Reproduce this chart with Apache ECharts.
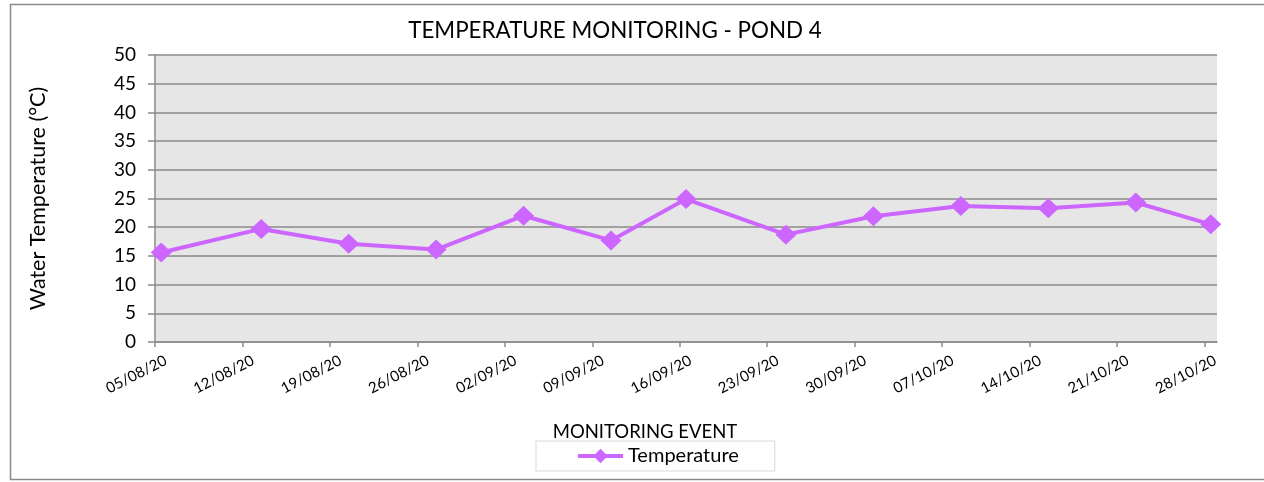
<!DOCTYPE html>
<html>
<head>
<meta charset="utf-8">
<script src="https://cdn.jsdelivr.net/npm/echarts@6/dist/echarts.min.js"></script>
<style>
html,body{margin:0;padding:0;background:#fff;}
#c{width:1264px;height:482px;}
</style>
</head>
<body>
<div id="c"></div>
<script>
// Data
var eventDates = ['2020-08-05','2020-08-13','2020-08-20','2020-08-27','2020-09-03','2020-09-10','2020-09-16','2020-09-24','2020-10-01','2020-10-08','2020-10-15','2020-10-22','2020-10-28'];
var temperature = [15.6, 19.7, 17.1, 16.1, 22.0, 17.7, 24.9, 18.7, 21.9, 23.7, 23.3, 24.3, 20.5];
var tickLabels = ['05/08/20','12/08/20','19/08/20','26/08/20','02/09/20','09/09/20','16/09/20','23/09/20','30/09/20','07/10/20','14/10/20','21/10/20','28/10/20'];
var yTicks = [0,5,10,15,20,25,30,35,40,45,50];

var DAY = 86400000;
var start = Date.parse('2020-08-05T00:00:00Z');
function dayOf(s){ return (Date.parse(s + 'T00:00:00Z') - start) / DAY; }
// Excel date axis: points centred in their day
var seriesData = eventDates.map(function(d, i){ return [dayOf(d) + 0.5, temperature[i]]; });
var tickPos = tickLabels.map(function(t){
  var p = t.split('/');
  return dayOf('20' + p[2] + '-' + p[1] + '-' + p[0]);
});
var xMax = tickPos[tickPos.length - 1] + 1;

var FONT = 'Lato';
var chart = echarts.init(document.getElementById('c'), null, {renderer: 'canvas'});
chart.setOption({
  animation: false,
  backgroundColor: '#fff',
  textStyle: {fontFamily: FONT},
  title: [
    {text: 'TEMPERATURE MONITORING - POND 4', left: 610, top: 15, textAlign: 'center',
     textStyle: {fontFamily: FONT, fontSize: 22.4, fontWeight: 'normal', color: '#000'}},
    {text: 'MONITORING EVENT', left: 640, top: 418, textAlign: 'center',
     textStyle: {fontFamily: FONT, fontSize: 18.5, fontWeight: 'normal', color: '#000'}}
  ],
  graphic: [
    {type: 'rect', shape: {x: 10.5, y: 4.5, width: 1300, height: 475}, silent: true,
     style: {fill: 'none', stroke: '#8a8a8a', lineWidth: 1.5}}
  ],
  legend: {
    data: ['Temperature'],
    left: 536, top: 441,
    borderColor: '#d9d9d9', borderWidth: 1,
    padding: [5, 36, 5, 40],
    itemWidth: 45, itemHeight: 18, itemGap: 4,
    lineStyle: {width: 4},
    textStyle: {fontFamily: FONT, fontSize: 20, color: '#000'}
  },
  grid: {left: 155, right: 47, top: 55, bottom: 140, show: true, backgroundColor: '#e6e6e6', borderWidth: 0},
  xAxis: {
    type: 'value', min: 0, max: xMax,
    splitLine: {show: false},
    axisLine: {show: true, lineStyle: {color: '#8a8a8a', width: 1.5}},
    axisTick: {show: true, length: 5, customValues: tickPos, lineStyle: {color: '#8a8a8a', width: 1.5}},
    axisLabel: {
      customValues: tickPos, rotate: 27, margin: 23,
      padding: [0, -12, 0, 0],
      fontFamily: FONT, fontSize: 15, color: '#000',
      formatter: function(v){ var i = tickPos.indexOf(Math.round(v)); return i >= 0 ? tickLabels[i] : ''; }
    }
  },
  yAxis: {
    type: 'value', min: yTicks[0], max: yTicks[yTicks.length - 1], interval: yTicks[1] - yTicks[0],
    name: 'Water Temperature (°C)', nameLocation: 'middle', nameGap: 106,
    nameTextStyle: {fontFamily: FONT, fontSize: 21.5, color: '#000'},
    axisLine: {show: true, lineStyle: {color: '#8a8a8a', width: 1.5}},
    axisTick: {show: true, inside: false, length: 7, lineStyle: {color: '#8a8a8a', width: 1.5}},
    axisLabel: {fontFamily: FONT, fontSize: 19, color: '#000', margin: 19},
    splitLine: {show: true, lineStyle: {color: '#8a8a8a', width: 1.5}}
  },
  series: [{
    name: 'Temperature', type: 'line', data: seriesData,
    symbol: 'diamond', symbolSize: [21, 20],
    lineStyle: {color: '#cc66ff', width: 4},
    itemStyle: {color: '#cc66ff'}
  }]
});
</script>
</body>
</html>
